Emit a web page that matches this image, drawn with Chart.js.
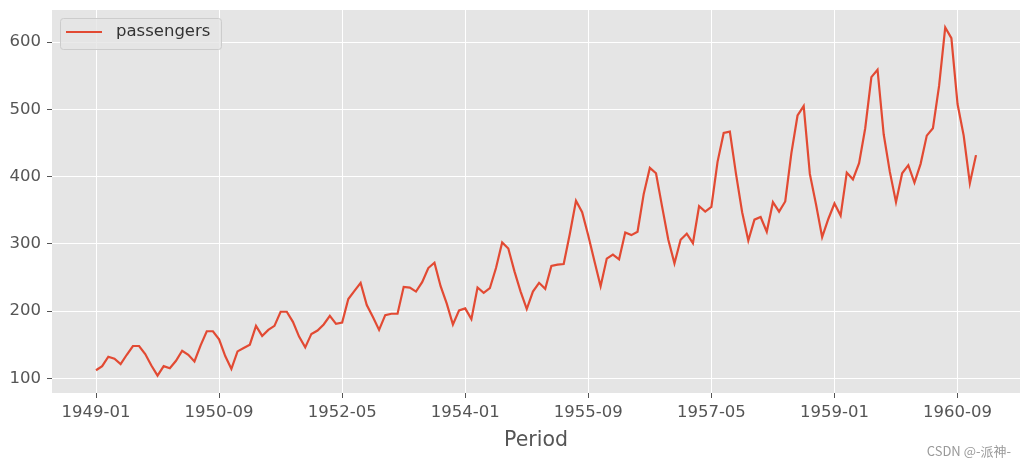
<!DOCTYPE html>
<html>
<head>
<meta charset="utf-8">
<script src="https://cdn.jsdelivr.net/npm/chart.js@4.4.0/dist/chart.umd.min.js"></script>
<style>
  html, body { margin: 0; padding: 0; background: #fff; }
  #wrap { width: 1025px; height: 467px; }
</style>
</head>
<body>
<div id="wrap"><canvas id="c" width="1025" height="467"></canvas></div>
<script>
// monthly airline passengers, 1949-01 .. 1960-12
const years = [1949, 1950, 1951, 1952, 1953, 1954, 1955, 1956, 1957, 1958, 1959, 1960];
const passengers = [
  112, 118, 132, 129, 121, 135, 148, 148, 136, 119, 104, 118,
  115, 126, 141, 135, 125, 149, 170, 170, 158, 133, 114, 140,
  145, 150, 178, 163, 172, 178, 199, 199, 184, 162, 146, 166,
  171, 180, 193, 181, 183, 218, 230, 242, 209, 191, 172, 194,
  196, 196, 236, 235, 229, 243, 264, 272, 237, 211, 180, 201,
  204, 188, 235, 227, 234, 264, 302, 293, 259, 229, 203, 229,
  242, 233, 267, 269, 270, 315, 364, 347, 312, 274, 237, 278,
  284, 277, 317, 313, 318, 374, 413, 405, 355, 306, 271, 306,
  315, 301, 356, 348, 355, 422, 465, 467, 404, 347, 305, 336,
  340, 318, 362, 348, 363, 435, 491, 505, 404, 359, 310, 337,
  360, 342, 406, 396, 420, 472, 548, 559, 463, 407, 362, 405,
  417, 391, 419, 461, 472, 535, 622, 606, 508, 461, 390, 432
];
const yTicks = [100, 200, 300, 400, 500, 600];
const xTickEvery = 20;

const periods = [];
years.forEach(y => {
  for (let m = 1; m <= 12; m++) periods.push(y + '-' + String(m).padStart(2, '0'));
});

const points = passengers.map((v, i) => ({x: i, y: v}));
const xTicks = periods.map((p, i) => i).filter(i => i % xTickEvery === 0);

const font = "'DejaVu Sans', sans-serif";

const ggplotBg = {
  id: 'ggplotBg',
  beforeDraw(chart) {
    const {ctx, chartArea: a} = chart;
    ctx.save();
    ctx.fillStyle = '#E5E5E5';
    ctx.fillRect(a.left, a.top, a.right - a.left, a.bottom - a.top);
    ctx.restore();
  },
  afterDraw(chart) {
    const {ctx} = chart;
    ctx.save();
    // legend box
    ctx.fillStyle = 'rgba(229,229,229,0.8)';
    ctx.strokeStyle = '#cccccc';
    ctx.lineWidth = 1;
    ctx.beginPath();
    ctx.roundRect(60.5, 18.5, 161, 31, 3);
    ctx.fill();
    ctx.stroke();
    ctx.strokeStyle = '#E24A33';
    ctx.lineWidth = 2.2;
    ctx.beginPath();
    ctx.moveTo(66, 32);
    ctx.lineTo(102, 32);
    ctx.stroke();
    ctx.fillStyle = '#333';
    ctx.font = '16.5px ' + font;
    ctx.textBaseline = 'middle';
    ctx.fillText('passengers', 116, 32);
    // watermark
    ctx.fillStyle = '#999';
    ctx.font = "13px 'Noto Sans CJK SC', sans-serif";
    ctx.textAlign = 'right';
    ctx.fillText('CSDN @-派神-', 1011, 451);
    ctx.restore();
  }
};

new Chart(document.getElementById('c'), {
  type: 'line',
  data: {
    datasets: [{
      label: 'passengers',
      data: points,
      borderColor: '#E24A33',
      borderWidth: 2.2,
      pointRadius: 0,
      tension: 0,
      fill: false
    }]
  },
  options: {
    responsive: false,
    animation: false,
    layout: {padding: {top: 10, right: 5, left: 0, bottom: 14}},
    plugins: {legend: {display: false}, tooltip: {enabled: false}},
    scales: {
      x: {
        type: 'linear',
        min: -7.15,
        max: 150.15,
        afterBuildTicks(s) { s.ticks = xTicks.map(v => ({value: v})); },
        afterFit(s) { s.height = 60; s.paddingLeft = 0; s.paddingRight = 0; },
        ticks: {
          color: '#555',
          font: {family: font, size: 16.5},
          padding: 5,
          maxRotation: 0,
          callback: v => periods[v]
        },
        grid: {color: '#ffffff', lineWidth: 1, tickColor: '#555', tickLength: 5},
        border: {display: false},
        title: {
          display: true,
          text: 'Period',
          color: '#555',
          font: {family: font, size: 20.5},
          padding: {top: 0, bottom: 0}
        }
      },
      y: {
        min: 78.1,
        max: 647.9,
        afterBuildTicks(s) { s.ticks = yTicks.map(v => ({value: v})); },
        afterFit(s) { s.width = 52; s.paddingTop = 0; s.paddingBottom = 0; },
        ticks: {
          color: '#555',
          font: {family: font, size: 16.5},
          padding: 6
        },
        grid: {color: '#ffffff', lineWidth: 1, tickColor: '#555', tickLength: 5},
        border: {display: false}
      }
    }
  },
  plugins: [ggplotBg]
});
</script>
</body>
</html>
